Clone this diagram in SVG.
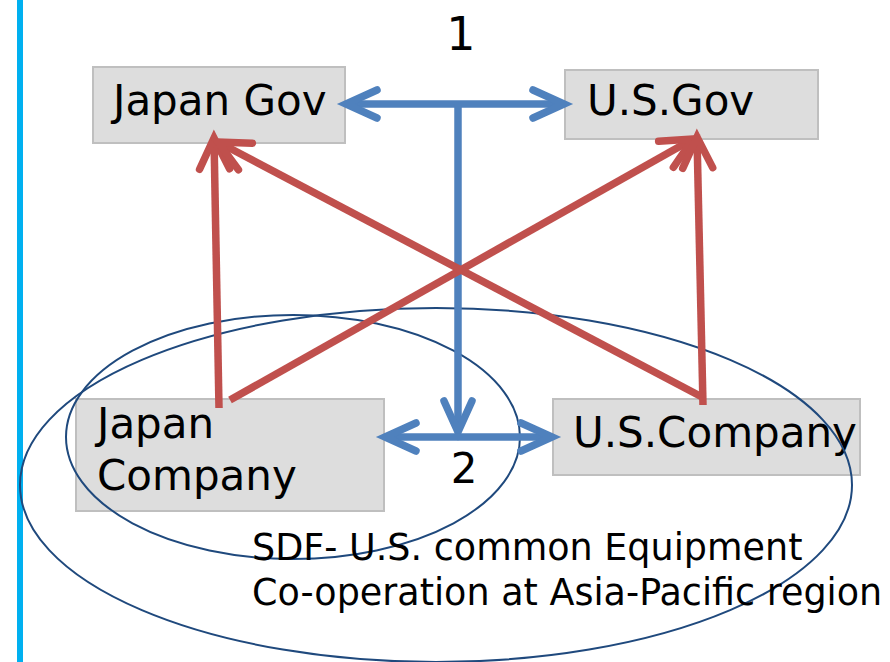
<svg xmlns="http://www.w3.org/2000/svg" width="890" height="662" viewBox="0 0 890 662">
<style>
.box{fill:#DDDDDD;stroke:#BFBFBF;stroke-width:2}
.t{font-family:"DejaVu Sans","Liberation Sans",sans-serif;fill:#000}
.big{font-size:42px}
.mid{font-size:36.5px}
.blue{fill:none;stroke:#4F81BD;stroke-width:7.5}
.red{fill:none;stroke:#C0504D;stroke-width:7.5}
.ell{fill:none;stroke:#1F497D;stroke-width:2}
</style>
<defs>
<marker id="bh" markerUnits="userSpaceOnUse" orient="auto-start-reverse" viewBox="-40 -20 50 40" markerWidth="50" markerHeight="40" refX="0" refY="0" overflow="visible">
<path d="M-31,-14 L0,0 L-31,14" fill="none" stroke="#4F81BD" stroke-width="7.5" stroke-linecap="round" stroke-linejoin="miter"/>
</marker>
<marker id="rh" markerUnits="userSpaceOnUse" orient="auto" viewBox="-40 -20 50 40" markerWidth="50" markerHeight="40" refX="0" refY="0" overflow="visible">
<path d="M-31,-15 L0,0 L-31,15" fill="none" stroke="#C0504D" stroke-width="7.5" stroke-linecap="round" stroke-linejoin="miter"/>
</marker>
</defs>
<rect x="17" y="0" width="6" height="662" fill="#00B0F0"/>
<g id="japan-gov">
<rect class="box" x="93" y="67" width="252" height="76"/>
<text class="t big" x="113" y="115">Japan Gov</text>
</g>
<g id="us-gov">
<rect class="box" x="565" y="70" width="253" height="69"/>
<text class="t big" x="587" y="115">U.S.Gov</text>
</g>
<g id="japan-company">
<rect class="box" x="76" y="399" width="308" height="112"/>
<text class="t big" x="97" y="438">Japan</text>
<text class="t big" x="97" y="490">Company</text>
</g>
<g id="us-company">
<rect class="box" x="553" y="399" width="307" height="76"/>
<text class="t big" x="573" y="447">U.S.Company</text>
</g>
<g id="regions">
<ellipse class="ell" cx="436" cy="485" rx="416" ry="177"/>
<ellipse class="ell" cx="293" cy="437" rx="227" ry="122"/>
</g>
<g id="labels">
<text class="t" x="461" y="50" font-size="46" text-anchor="middle">1</text>
<text class="t" x="464" y="483" font-size="42" text-anchor="middle">2</text>
<text class="t mid" x="252" y="560">SDF- U.S. common Equipment</text>
<text class="t mid" x="252" y="605">Co-operation at Asia-Pacific region</text>
</g>
<g id="connectors">
<path class="blue" d="M346,104 L564,104" marker-start="url(#bh)" marker-end="url(#bh)"/>
<path class="blue" d="M458,104 L458,432" marker-end="url(#bh)"/>
<path class="blue" d="M385,437 L552,437" marker-start="url(#bh)" marker-end="url(#bh)"/>
<path class="red" d="M219,408 L214,138" marker-end="url(#rh)"/>
<path class="red" d="M230,400 L693,139" marker-end="url(#rh)"/>
<path class="red" d="M702,397 L218,142" marker-end="url(#rh)"/>
<path class="red" d="M703,405 L697,137" marker-end="url(#rh)"/>
</g>
</svg>
